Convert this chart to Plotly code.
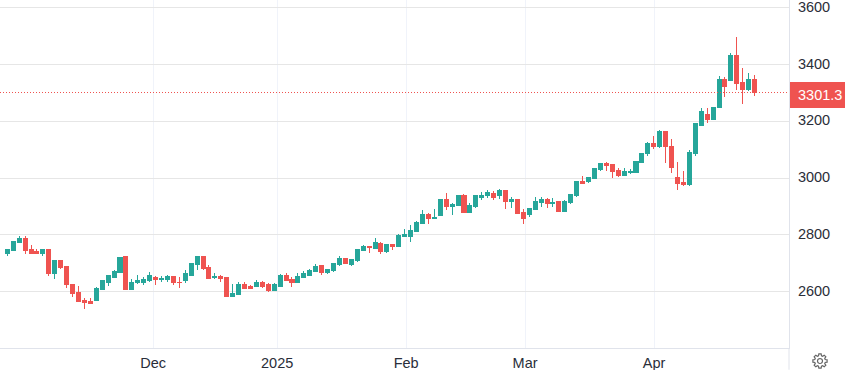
import math
import plotly.graph_objects as go

opens = [2733,2744,2773,2787,2748,2740,2733,2748,2662,2708,2687,2626,2598,2569,2566,2569,2608,2633,2648,2666,
2723,2608,2630,2633,2637,2648,2641,2641,2651,2633,2637,2658,2694,2723,2683,2648,2651,2648,2583,2591,
2626,2616,2616,2633,2626,2605,2619,2658,2641,2633,2648,2658,2669,2691,2666,2673,2694,2716,2694,2708,
2744,2758,2751,2769,2741,2765,2758,2794,2794,2812,2840,2873,2858,2869,2923,2898,2905,2937,2880,2901,
2933,2937,2944,2937,2955,2919,2923,2880,2873,2890,2915,2923,2910,2917,2882,2913,2938,2987,2987,2998,
3029,3050,3047,3026,3008,3019,3019,3054,3085,3121,3113,3163,3113,3001,2984,2977,3085,3187,3226,3208,
3250,3349,3345,3433,3338,3313,3349]
highs = [2748,2776,2794,2794,2765,2751,2751,2751,2712,2712,2687,2626,2619,2576,2576,2616,2641,2655,2676,2719,
2723,2644,2658,2651,2669,2655,2655,2658,2655,2651,2676,2701,2723,2723,2694,2666,2658,2651,2626,2633,
2633,2623,2641,2637,2630,2630,2662,2666,2651,2666,2673,2680,2698,2694,2680,2698,2726,2719,2716,2748,
2765,2762,2787,2776,2769,2769,2801,2819,2833,2848,2887,2876,2890,2926,2948,2912,2937,2944,2912,2940,
2951,2958,2955,2962,2958,2933,2923,2890,2894,2933,2933,2930,2931,2920,2924,2941,2991,3008,3005,3036,
3054,3057,3050,3036,3036,3033,3061,3089,3128,3149,3170,3166,3138,3057,3026,3099,3191,3247,3247,3250,
3359,3356,3443,3499,3387,3370,3363]
lows = [2726,2744,2773,2733,2733,2733,2726,2655,2644,2680,2612,2580,2566,2537,2555,2569,2608,2619,2648,2666,
2605,2608,2626,2623,2633,2623,2633,2633,2623,2612,2630,2658,2676,2676,2644,2644,2633,2583,2583,2591,
2608,2612,2616,2612,2598,2601,2619,2637,2616,2633,2648,2655,2669,2658,2662,2669,2691,2698,2691,2705,
2744,2737,2751,2733,2737,2748,2758,2794,2776,2808,2840,2837,2855,2869,2887,2869,2905,2880,2880,2894,
2923,2930,2923,2926,2890,2894,2873,2837,2862,2887,2898,2894,2899,2882,2882,2910,2934,2980,2984,2998,
3026,3026,3001,3005,3008,3015,3019,3054,3078,3103,3106,3054,3019,2959,2973,2973,3078,3187,3194,3208,
3250,3285,3345,3310,3261,3306,3289]
closes = [2748,2776,2787,2744,2733,2733,2748,2662,2708,2683,2623,2594,2566,2562,2558,2612,2637,2655,2669,2719,
2608,2633,2637,2641,2658,2641,2644,2651,2630,2630,2662,2698,2723,2680,2644,2651,2644,2583,2594,2623,
2612,2612,2633,2619,2605,2626,2658,2637,2633,2651,2662,2673,2687,2666,2676,2698,2716,2698,2712,2748,
2758,2755,2773,2741,2765,2758,2798,2801,2815,2844,2873,2858,2862,2923,2898,2908,2937,2880,2905,2937,
2940,2948,2933,2955,2919,2923,2876,2858,2894,2919,2923,2912,2913,2882,2917,2941,2987,2980,3001,3033,
3050,3043,3022,3008,3022,3022,3057,3085,3121,3113,3163,3110,3036,2980,2977,3089,3191,3236,3208,3250,
3349,3324,3433,3334,3313,3349,3301.3]
bar_index = list(range(len(opens)))

month_labels = ["Dec", "2025", "Feb", "Mar", "Apr"]
month_positions = [24.6, 45.5, 67.25, 87.3, 109.05]
price_ticks = [2600, 2800, 3000, 3200, 3400, 3600]
last_price = closes[-1]

UP = "#26a69a"
DOWN = "#ef5350"
FONT = "Liberation Sans, Arial, sans-serif"
TEXT = "#2a2e39"
PLOT_W, PLOT_H = 789, 348


def gear_path(cx, cy, r_out=7.2, r_in=5.4, r_hole=2.5, teeth=8):
    px = lambda x: x / PLOT_W
    py = lambda y: 1 - y / PLOT_H
    pts = []
    step = 2 * math.pi / teeth
    for k in range(teeth):
        a = k * step
        for off, r in ((-0.30, r_in), (-0.17, r_out), (0.17, r_out), (0.30, r_in)):
            pts.append((cx + r * math.cos(a + off * step * 1.2), cy + r * math.sin(a + off * step * 1.2)))
    d = "M " + " L ".join(f"{px(x):.5f},{py(y):.5f}" for x, y in pts) + " Z "
    hole = [(cx + r_hole * math.cos(i * math.pi / 8), cy + r_hole * math.sin(i * math.pi / 8)) for i in range(16)]
    d += "M " + " L ".join(f"{px(x):.5f},{py(y):.5f}" for x, y in hole) + " Z"
    return d


fig = go.Figure(go.Candlestick(
    x=bar_index, open=opens, high=highs, low=lows, close=closes,
    increasing=dict(line=dict(color=UP, width=1), fillcolor=UP),
    decreasing=dict(line=dict(color=DOWN, width=1), fillcolor=DOWN),
    whiskerwidth=0, showlegend=False,
))

fig.update_layout(
    width=845, height=370, autosize=False,
    margin=dict(l=0, r=56, t=0, b=22, pad=0, autoexpand=False),
    paper_bgcolor="white", plot_bgcolor="white",
    boxgap=0.32, boxgroupgap=0,
    font=dict(family=FONT, color=TEXT, size=14.5),
    dragmode=False,
    xaxis=dict(
        range=[-1.23, 131.8], rangeslider=dict(visible=False), automargin=False,
        tickmode="array", tickvals=month_positions, ticktext=month_labels,
        showgrid=True, gridcolor="#f0f3fa", gridwidth=1, zeroline=False,
        showline=True, linecolor="#e0e3eb", linewidth=1,
        ticks="outside", ticklen=2, tickcolor="rgba(0,0,0,0)",
        ticklabeloverflow="allow",
        tickfont=dict(size=14.5, color=TEXT),
    ),
    yaxis=dict(
        side="right", range=[2400.5, 3628.2], automargin=False,
        tickmode="array", tickvals=price_ticks,
        showgrid=True, gridcolor="#e6e6e6", gridwidth=1, zeroline=False,
        showline=True, linecolor="#e0e3eb", linewidth=1,
        ticks="outside", ticklen=5, tickcolor="rgba(0,0,0,0)",
        ticklabeloverflow="allow", ticklabelshift=-1,
        tickfont=dict(size=14.5, color=TEXT),
    ),
    shapes=[
        dict(type="line", xref="paper", yref="y", x0=0, x1=1, y0=last_price, y1=last_price,
             line=dict(color=DOWN, width=1, dash="1px,2px")),
        dict(type="line", xref="paper", yref="paper", x0=1, x1=1, y0=-0.0625, y1=0,
             line=dict(color="#e0e3eb", width=1)),
        dict(type="rect", xref="paper", yref="paper", x0=790 / PLOT_W, x1=845 / PLOT_W,
             y0=1 - 108 / PLOT_H, y1=1 - 82 / PLOT_H, fillcolor=DOWN, line=dict(width=0)),
        dict(type="path", xref="paper", yref="paper", path=gear_path(820, 361),
             line=dict(color="#666666", width=1.2), fillcolor="rgba(0,0,0,0)"),
    ],
    annotations=[
        dict(xref="paper", yref="y", x=1, y=last_price, xanchor="center", yanchor="middle",
             text=f"{last_price:.1f}", showarrow=False, font=dict(color="white", size=14.5),
             xshift=31, yshift=-2.5),
    ],
)

fig.write_html("out.html", config=dict(displayModeBar=False),
               post_script="document.body.style.margin='0';document.body.style.overflow='hidden';"
                           "document.querySelectorAll('.boxlayer path').forEach(function(p){p.style.shapeRendering='crispEdges';});"
                           "document.querySelectorAll('.shapelayer path[data-index=\"0\"]').forEach(function(p){p.style.shapeRendering='crispEdges';});")
